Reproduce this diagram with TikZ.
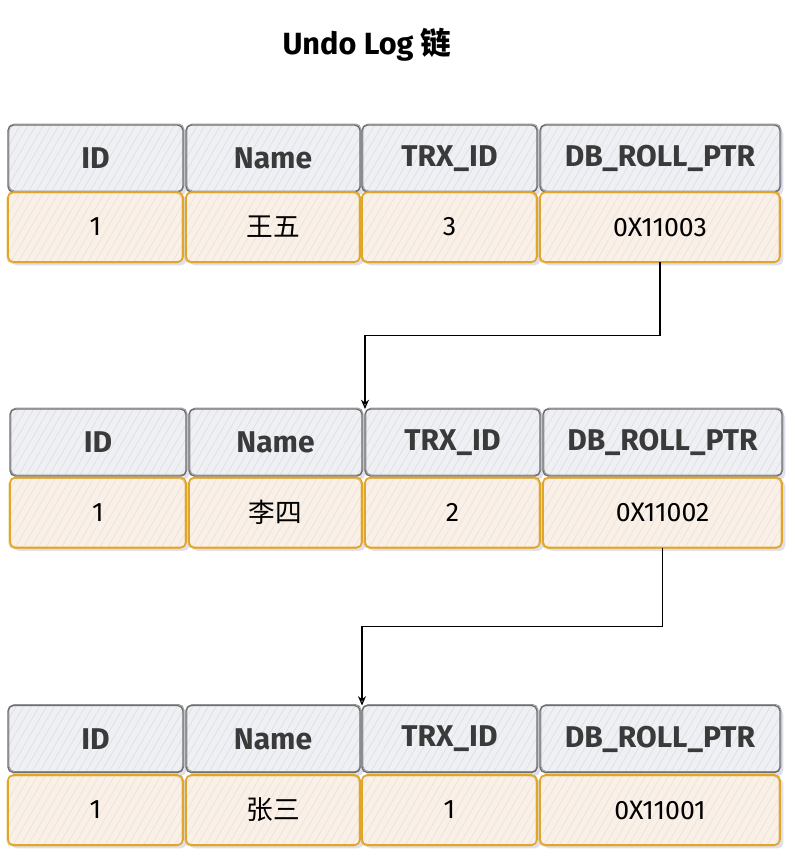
\documentclass[tikz,border=0pt]{standalone}
\usepackage{fontspec}
\setmainfont{Fira Sans}
\newfontfamily\cjk{Noto Sans CJK SC}
\usetikzlibrary{patterns.meta,shadows,arrows.meta,calc}

\definecolor{hdrfill}{HTML}{EFF0F4}
\definecolor{hdrline}{HTML}{6E6E6E}
\definecolor{hdrhatch}{HTML}{DCDFE6}
\definecolor{rowfill}{HTML}{FBF0E6}
\definecolor{rowline}{HTML}{DFA62A}
\definecolor{rowhatch}{HTML}{E6E3E4}
\definecolor{hdrtext}{HTML}{3A3A3A}

\tikzset{
  cellbase/.style={
    rounded corners=4pt, line width=1pt, inner sep=0pt, outer sep=0pt,
    drop shadow={opacity=0.12, shadow xshift=2.5pt, shadow yshift=-2.5pt, fill=blue!40!black},
  },
  hdrcell/.style={cellbase, draw=hdrline,
    preaction={fill=hdrfill},
    pattern={Lines[angle=60,distance=5pt,line width=0.5pt]}, pattern color=hdrhatch,
    postaction={draw=hdrline, line width=0.6pt, opacity=0.7,
      transform canvas={shift={(0.7pt,0.8pt)}}},
    text=hdrtext, font=\fontsize{22.5}{26}\selectfont\bfseries,
    minimum height=67*0.75pt},
  rowcell/.style={cellbase, draw=rowline, line width=1.2pt,
    preaction={fill=rowfill},
    pattern={Lines[angle=60,distance=5pt,line width=0.5pt]}, pattern color=rowhatch,
    postaction={draw=rowline, line width=0.6pt, opacity=0.7,
      transform canvas={shift={(-0.7pt,-0.8pt)}}},
    text=black, font=\fontsize{20}{24}\selectfont,
    minimum height=70*0.75pt},
  wd/.style={minimum width=#1*0.75pt},
  link/.style={draw=black, line width=1.1pt,
    -{Stealth[open, length=7pt, width=6pt, line width=0.9pt]}},
}

\begin{document}
\begin{tikzpicture}[x=0.75pt,y=-0.75pt]
\useasboundingbox[fill=white] (0,0) rectangle (802,854);

% title
\node (title) at (367,45) {\fontsize{23}{27}\selectfont\bfseries Undo Log {\cjk 链}};

% --- record: 王五 (TRX 3)
\node[hdrcell, wd=175] (a1) at (95.5,158.5) {ID};
\node[hdrcell, wd=174] (a2) at (273,158.5) {Name};
\node[hdrcell, wd=175] (a3) at (449.5,158.5) {TRX\_ID};
\node[hdrcell, wd=240] (a4) at (660,158.5) {DB\_ROLL\_PTR};
\node[rowcell, wd=175] (a5) at (95.5,227) {1};
\node[rowcell, wd=174] (a6) at (273,227) {\cjk 王五};
\node[rowcell, wd=175] (a7) at (449.5,227) {3};
\node[rowcell, wd=240] (a8) at (660,227) {0X11003};

% --- record: 李四 (TRX 2)
\node[hdrcell, wd=176] (b1) at (98,442.5) {ID};
\node[hdrcell, wd=173] (b2) at (275.5,442.5) {Name};
\node[hdrcell, wd=175] (b3) at (452.5,442.5) {TRX\_ID};
\node[hdrcell, wd=239] (b4) at (662.5,442.5) {DB\_ROLL\_PTR};
\node[rowcell, wd=176] (b5) at (98,512.5) {1};
\node[rowcell, wd=173] (b6) at (275.5,512.5) {\cjk 李四};
\node[rowcell, wd=175] (b7) at (452.5,512.5) {2};
\node[rowcell, wd=239] (b8) at (662.5,512.5) {0X11002};

% --- record: 张三 (TRX 1)
\node[hdrcell, wd=175] (c1) at (95.5,739) {ID};
\node[hdrcell, wd=174] (c2) at (273,739) {Name};
\node[hdrcell, wd=175] (c3) at (449.5,739) {TRX\_ID};
\node[hdrcell, wd=240] (c4) at (660,739) {DB\_ROLL\_PTR};
\node[rowcell, wd=175] (c5) at (95.5,810) {1};
\node[rowcell, wd=174] (c6) at (273,810) {\cjk 张三};
\node[rowcell, wd=175] (c7) at (449.5,810) {1};
\node[rowcell, wd=240] (c8) at (660,810) {0X11001};

% roll pointers to the older versions
\coordinate (m1) at ($(a8.south)!0.5!(b3.north west)$);
\coordinate (m2) at ($(b8.south)!0.5!(c3.north west)$);
\draw[link] (a8.south) |- (m1) -| (b3.north west);
\draw[link] (b8.south) |- (m2) -| (c3.north west);
\end{tikzpicture}
\end{document}
